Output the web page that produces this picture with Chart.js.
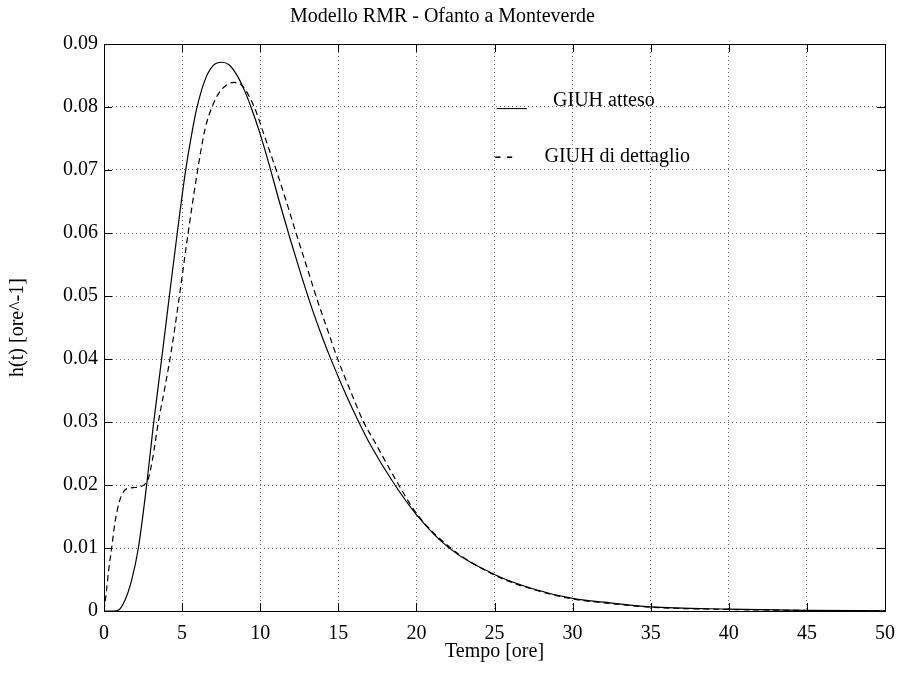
<!DOCTYPE html>
<html>
<head>
<meta charset="utf-8">
<title>Modello RMR - Ofanto a Monteverde</title>
<script src="https://cdn.jsdelivr.net/npm/chart.js@4.4.1/dist/chart.umd.min.js"></script>
<style>
  html, body { margin: 0; padding: 0; background: #fff; }
  #wrap { width: 900px; height: 689px; position: relative; }
</style>
</head>
<body>
<div id="wrap"><canvas id="chart"></canvas></div>
<script>
// GIUH atteso (solid line)
const timeAtteso = [0, 0.6, 0.9, 1.34, 1.77, 2.2, 2.73, 3.16, 3.69, 4.16, 4.69, 5.2, 5.6, 5.93,
  6.5, 7.0, 7.53, 8.0, 8.5, 9.0, 9.38, 10.0, 10.58, 11.2, 11.9, 12.6, 13.29, 14.0, 14.57, 15.5,
  16.39, 17.07, 18.52, 20, 22.04, 25, 27.5, 30, 32, 35, 40, 45, 50];
const hAtteso = [0, 0, 0.0001, 0.0017, 0.0049, 0.010, 0.020, 0.0295, 0.040, 0.0495, 0.060, 0.0695, 0.0755, 0.0797,
  0.0845, 0.0866, 0.0871, 0.0867, 0.0851, 0.0826, 0.0802, 0.0757, 0.0708, 0.0652, 0.0592, 0.0535, 0.0482, 0.0433, 0.0397, 0.0343,
  0.0296, 0.0263, 0.0204, 0.0153, 0.0101, 0.0058, 0.0035, 0.0020, 0.0014, 0.00067, 0.0003, 0.0001, 0.00003];

// GIUH di dettaglio (dashed line)
const timeDettaglio = [0, 0.15, 0.3, 0.49, 0.7, 1.0, 1.3, 1.6, 2.0, 2.3, 2.6, 2.8, 3.1, 3.48, 3.9,
  4.29, 4.8, 5.3, 5.9, 6.47, 7.0, 7.5, 8.3, 8.8, 9.6, 10.3, 11.05, 11.7, 12.28, 13.0, 13.61, 14.3,
  14.93, 15.8, 16.6, 17.34, 18.73, 20, 22.1, 25, 27.5, 30, 32, 35, 40, 45, 50];
const hDettaglio = [0, 0.003, 0.0065, 0.010, 0.014, 0.0175, 0.0191, 0.0195, 0.0196, 0.0197, 0.0201, 0.0207, 0.024, 0.030, 0.0355,
  0.041, 0.0495, 0.0585, 0.0685, 0.0765, 0.0805, 0.0827, 0.0839, 0.0835, 0.0801, 0.0752, 0.0698, 0.0648, 0.0601, 0.0545, 0.0497, 0.0447,
  0.0402, 0.0348, 0.0301, 0.0268, 0.0206, 0.0155, 0.0102, 0.0057, 0.0034, 0.0019, 0.0013, 0.0006, 0.00025, 0.00008, 0.00002];

const xTicks = [0, 5, 10, 15, 20, 25, 30, 35, 40, 45, 50];
const yTickLabels = ["0", "0.01", "0.02", "0.03", "0.04", "0.05", "0.06", "0.07", "0.08", "0.09"];
const legendSamples = ["___", "- -"];
const legendLabels = ["GIUH atteso", "GIUH di dettaglio"];

const FONT = '"Liberation Serif", "Times New Roman", serif';
const INK = "#000";
const GRID = "#6f6f6f";

Chart.defaults.font.family = FONT;
Chart.defaults.font.size = 20;
Chart.defaults.color = INK;

const toPoints = (xs, ys) => xs.map((x, i) => ({ x, y: ys[i] }));

// box round the plot plus the small inward ticks MATLAB draws
const frameAndText = {
  id: "frameAndText",
  afterDatasetsDraw(chart) {
    const { ctx, chartArea: a, scales: { x, y } } = chart;
    const len = 8;
    ctx.save();
    ctx.strokeStyle = INK;
    ctx.lineWidth = 1;
    ctx.beginPath();
    xTicks.forEach((v) => {
      const px = Math.round(x.getPixelForValue(v)) + 0.5;
      ctx.moveTo(px, a.bottom); ctx.lineTo(px, a.bottom - len);
      ctx.moveTo(px, a.top); ctx.lineTo(px, a.top + len);
    });
    yTickLabels.forEach((_, i) => {
      const py = Math.round(y.getPixelForValue(i * 0.01)) + 0.5;
      ctx.moveTo(a.left, py); ctx.lineTo(a.left + len, py);
      ctx.moveTo(a.right, py); ctx.lineTo(a.right - len, py);
    });
    ctx.stroke();
    ctx.strokeRect(Math.round(a.left) + 0.5, Math.round(a.top) + 0.5,
      Math.round(a.right - a.left), Math.round(a.bottom - a.top));

    // text legend placed inside the axes, like the original
    ctx.fillStyle = INK;
    ctx.font = "20px " + FONT;
    ctx.textBaseline = "middle";
    ctx.textAlign = "left";
    const rows = [
      { sx: 25.15, lx: 28.75, yv: 0.081 },
      { sx: 25.0, lx: 28.2, yv: 0.0721 },
    ];
    rows.forEach((r, i) => {
      const py = y.getPixelForValue(r.yv);
      ctx.fillText(legendSamples[i], x.getPixelForValue(r.sx), py);
      ctx.fillText(legendLabels[i], x.getPixelForValue(r.lx), py);
    });
    ctx.restore();
  },
};

new Chart(document.getElementById("chart"), {
  type: "line",
  data: {
    datasets: [
      {
        label: legendLabels[0],
        data: toPoints(timeAtteso, hAtteso),
        borderColor: INK,
        borderWidth: 1.2,
        pointRadius: 0,
        cubicInterpolationMode: "monotone",
        fill: false,
      },
      {
        label: legendLabels[1],
        data: toPoints(timeDettaglio, hDettaglio),
        borderColor: INK,
        borderWidth: 1.2,
        borderDash: [6, 4],
        pointRadius: 0,
        cubicInterpolationMode: "monotone",
        fill: false,
      },
    ],
  },
  options: {
    responsive: true,
    maintainAspectRatio: false,
    animation: false,
    layout: { padding: { top: 0, left: 0, right: 15, bottom: 0 } },
    plugins: {
      legend: { display: false },
      tooltip: { enabled: false },
      title: {
        display: true,
        text: "Modello RMR - Ofanto a Monteverde",
        color: INK,
        font: { size: 20, weight: "normal", family: FONT, lineHeight: 1.2 },
        padding: { top: 5, bottom: 15 },
      },
    },
    scales: {
      x: {
        type: "linear",
        min: 0,
        max: 50,
        afterBuildTicks: (scale) => { scale.ticks = xTicks.map((value) => ({ value })); },
        afterFit: (scale) => {
          scale.height = 78;
          scale.paddingLeft = 0;
          scale.paddingRight = 0;
        },
        ticks: { color: INK, padding: 11, maxRotation: 0, font: { size: 20 } },
        grid: { color: GRID, drawTicks: false, lineWidth: 1 },
        border: { display: false, dash: [1, 3] },
        title: {
          display: true,
          text: "Tempo [ore]",
          color: INK,
          font: { size: 20, lineHeight: 1.2 },
          padding: { top: 0, bottom: 25 },
        },
      },
      y: {
        min: 0,
        max: 0.09,
        afterBuildTicks: (scale) => {
          scale.ticks = yTickLabels.map((_, i) => ({ value: i * 0.01 }));
        },
        afterFit: (scale) => { scale.width = 104; },
        ticks: {
          color: INK,
          padding: 6,
          font: { size: 20 },
          callback: (value, index) => yTickLabels[index],
        },
        grid: { color: GRID, drawTicks: false, lineWidth: 1 },
        border: { display: false, dash: [1, 3] },
        title: {
          display: true,
          text: "h(t) [ore^-1]",
          color: INK,
          font: { size: 20, lineHeight: 1.2 },
          padding: { top: 6, bottom: 0 },
        },
      },
    },
  },
  plugins: [frameAndText],
});
</script>
</body>
</html>
